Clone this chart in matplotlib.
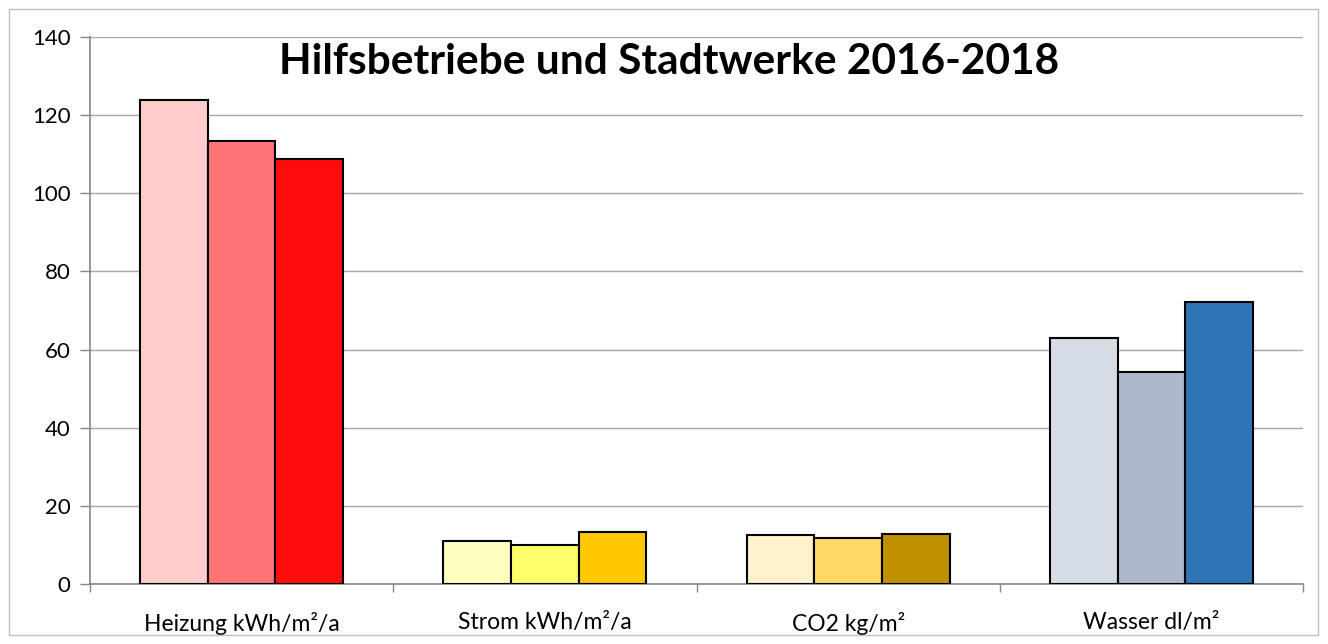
import matplotlib
matplotlib.use("Agg")
import matplotlib.pyplot as plt
import numpy as np
from matplotlib.patches import Rectangle

categories = ["Heizung kWh/m²/a", "Strom kWh/m²/a", "CO2 kg/m²", "Wasser dl/m²"]
years = ["2016", "2017", "2018"]
values_2016 = [124.0, 11.1, 12.5, 63.0]
values_2017 = [113.4, 9.9, 11.8, 54.3]
values_2018 = [108.9, 13.3, 12.9, 72.1]
title = "Hilfsbetriebe und Stadtwerke 2016-2018"
yticks = [0, 20, 40, 60, 80, 100, 120, 140]

colors = [
    ["#FFCCCC", "#FF7575", "#FF0D0D"],
    ["#FFFFC0", "#FFFF6B", "#FFC800"],
    ["#FFF2CC", "#FFD966", "#BF9000"],
    ["#D6DCE5", "#ADB9CA", "#2E75B6"],
]

plt.rcParams['font.family'] = ['Lato', 'DejaVu Sans']

fig = plt.figure(figsize=(13.28, 6.44), dpi=100)
ax = fig.add_axes([90/1328, 1-584/644, (1303-90)/1328, (584-37)/644])

series = [values_2016, values_2017, values_2018]
x = np.arange(len(categories))
bw = 0.223
for j, vals in enumerate(series):
    ax.bar(x + (j - 1) * bw, vals, width=bw,
           color=[colors[i][j] for i in range(len(categories))],
           edgecolor="black", linewidth=1.5, zorder=3)

ax.set_xlim(-0.5, len(categories) - 0.5)
ax.set_ylim(0, 140)
ax.set_yticks(yticks)
ax.set_yticklabels([str(t) for t in yticks], fontsize=16)
ax.yaxis.grid(True, color="#A6A6A6", linewidth=1.0, zorder=0)
ax.set_axisbelow(True)

ax.set_xticks(x)
ax.set_xticklabels(categories, fontsize=16.5)
ax.tick_params(axis="x", length=0, pad=20)
ax.set_xticks(np.arange(len(categories) + 1) - 0.5, minor=True)
ax.tick_params(axis="x", which="minor", length=6, color="#868686", width=1)
ax.tick_params(axis="y", length=7, color="#868686", width=1, pad=7)

for s in ["top", "right"]:
    ax.spines[s].set_visible(False)
for s in ["left", "bottom"]:
    ax.spines[s].set_color("#868686")
    ax.spines[s].set_linewidth(1.2)

fig.text(669/1328, 1-62/644, title, ha="center", va="center",
         fontsize=30.5, fontweight="bold")

fig.patches.append(Rectangle((9/1328, 9/644), 1-19/1328, 1-18/644,
                             transform=fig.transFigure, fill=False,
                             edgecolor="#BFBFBF", linewidth=1.0))

fig.savefig("out.png", dpi=100)
